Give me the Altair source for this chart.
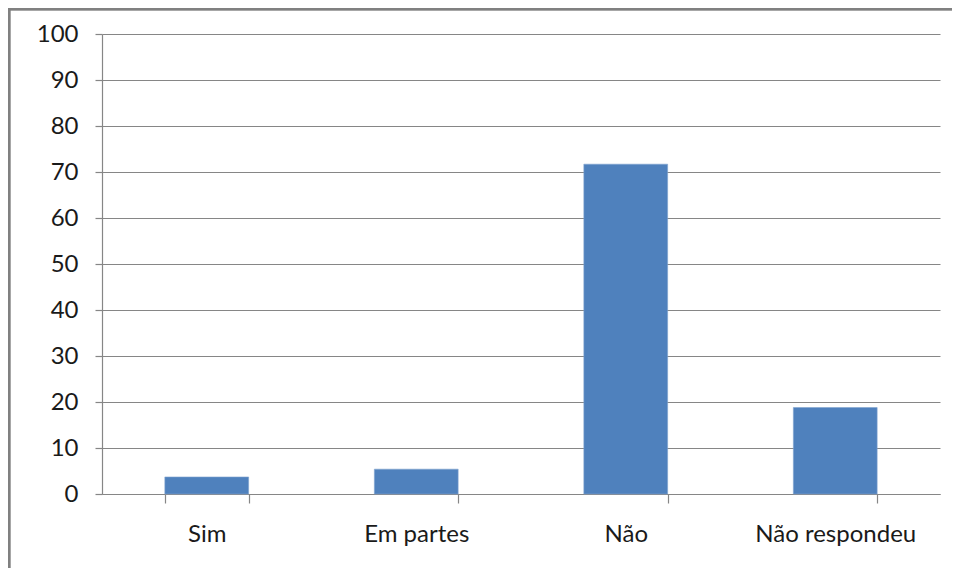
import altair as alt
import pandas as pd

categories = ["Sim", "Em partes", "Não", "Não respondeu"]
values = [3.7, 5.4, 71.7, 18.8]
y_ticks = [0, 10, 20, 30, 40, 50, 60, 70, 80, 90, 100]

df = pd.DataFrame({"cat": categories, "val": values})

FONT = "Lato"
GRAY = "#868686"
TXT = "#1a1a1a"

bars = alt.Chart(df).mark_bar(color="#4F81BD", stroke="#7FA3CF", strokeWidth=0.6).encode(
    x=alt.X("cat:N", sort=categories, title=None,
            scale=alt.Scale(paddingInner=0.6, paddingOuter=0.3),
            axis=alt.Axis(labelAngle=0, labelFont=FONT, labelFontSize=24,
                          labelFontWeight="normal",
                          labelColor=TXT, labelPadding=19,
                          tickBand="extent", tickSize=9, tickColor=GRAY,
                          domainColor=GRAY, domainWidth=1.2, tickWidth=1.2,
                          grid=False)),
    y=alt.Y("val:Q", title=None,
            scale=alt.Scale(domain=[0, 100], nice=False),
            axis=alt.Axis(values=y_ticks, labelFont=FONT, labelFontSize=24,
                          labelFontWeight="normal",
                          labelColor=TXT, labelPadding=17, tickSize=7,
                          tickColor=GRAY, domainColor=GRAY, gridColor=GRAY,
                          gridWidth=1, domainWidth=1.2, tickWidth=1.2,
                          grid=True)),
)

frame = alt.Chart(df).mark_rect(fill=None, stroke="#808080", strokeWidth=2.5, clip=False).encode(
    x=alt.value(-93), x2=alt.value(900), y=alt.value(-25), y2=alt.value(600)
)

chart = alt.layer(bars, frame).properties(
    width=838, height=460,
    autosize=alt.AutoSizeParams(type="none"),
    padding={"left": 94, "top": 26, "right": 12, "bottom": 74},
    background="white",
).configure_view(stroke=None)

chart.save("out.html", embed_options={"renderer": "svg", "actions": False})
